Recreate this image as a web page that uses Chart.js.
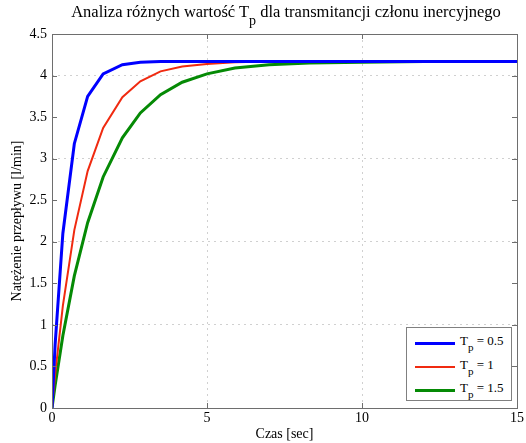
<!DOCTYPE html>
<html lang="pl">
<head>
  <meta charset="UTF-8" />
  <title>Analiza różnych wartość Tp</title>
  <script src="https://cdn.jsdelivr.net/npm/chart.js"></script>
  <style>
    html, body { margin: 0; padding: 0; background: #fff; }
    #wrap { position: relative; width: 526px; height: 443px; font-family: "Liberation Serif", "Times New Roman", serif; color: #000; }
    #title { position: absolute; left: 0; top: 2px; width: 572px; text-align: center; font-size: 16.5px; white-space: nowrap; }
    #title sub, #legend sub { font-size: 0.85em; vertical-align: -0.55em; line-height: 0; }
    #legend { position: absolute; left: 406px; top: 327px; width: 106px; height: 74px; border: 1px solid #808080; background: #fff; box-sizing: border-box; font-size: 13px; }
    .row { position: absolute; left: 0; height: 16px; }
    .row i { position: absolute; left: 8px; top: 7px; width: 40px; }
    .row span { position: absolute; left: 53px; top: -2px; white-space: nowrap; }
  </style>
</head>
<body>
<div id="wrap">
  <canvas id="chart" width="526" height="443"></canvas>
  <div id="title">Analiza różnych wartość T<sub>p</sub> dla transmitancji członu inercyjnego</div>
  <div id="legend"></div>
</div>

<script>
  // odpowiedź skokowa członu inercyjnego dla trzech stałych czasowych
  const times = [0, 0.1, 0.35, 0.72, 1.15, 1.65, 2.27, 2.85, 3.5, 4.2, 5.0, 5.9, 7.0, 8.3, 10, 12, 15];
  const tp05 = [0, 0.76, 2.10, 3.18, 3.75, 4.02, 4.13, 4.16, 4.17, 4.17, 4.17, 4.17, 4.17, 4.17, 4.17, 4.17, 4.17];
  const tp1  = [0, 0.40, 1.23, 2.14, 2.85, 3.37, 3.74, 3.93, 4.05, 4.11, 4.14, 4.16, 4.17, 4.17, 4.17, 4.17, 4.17];
  const tp15 = [0, 0.27, 0.87, 1.59, 2.23, 2.78, 3.25, 3.55, 3.77, 3.92, 4.02, 4.09, 4.13, 4.15, 4.16, 4.17, 4.17];

  const seriesLabels = ['0.5', '1', '1.5'];
  const seriesColors = ['#0000ff', '#f02a10', '#058a05'];
  const seriesWidths = [3, 2, 3];
  const xTicks = [0, 5, 10, 15];
  const yTicks = [0, 0.5, 1, 1.5, 2, 2.5, 3, 3.5, 4, 4.5];

  const serif = "'Liberation Serif', 'Times New Roman', serif";

  function pts(ys) {
    return times.map((t, i) => ({ x: t, y: ys[i] }));
  }

  // ramka i znaczniki do wewnątrz (styl MATLAB)
  const framePlugin = {
    id: 'frame',
    afterDraw(chart) {
      const { ctx, chartArea: a, scales } = chart;
      ctx.save();
      ctx.strokeStyle = '#6e6e6e';
      ctx.lineWidth = 1;
      ctx.strokeRect(a.left + 0.5, a.top + 0.5, a.right - a.left, a.bottom - a.top);
      ctx.beginPath();
      xTicks.forEach(v => {
        const px = Math.round(scales.x.getPixelForValue(v)) + 0.5;
        ctx.moveTo(px, a.bottom); ctx.lineTo(px, a.bottom - 5);
        ctx.moveTo(px, a.top); ctx.lineTo(px, a.top + 5);
      });
      yTicks.forEach(v => {
        const py = Math.round(scales.y.getPixelForValue(v)) + 0.5;
        ctx.moveTo(a.left, py); ctx.lineTo(a.left + 5, py);
        ctx.moveTo(a.right, py); ctx.lineTo(a.right - 5, py);
      });
      ctx.stroke();
      ctx.restore();
    }
  };

  new Chart(document.getElementById('chart'), {
    type: 'line',
    data: {
      datasets: [
        { label: 'Tp = ' + seriesLabels[0], data: pts(tp05) },
        { label: 'Tp = ' + seriesLabels[1], data: pts(tp1) },
        { label: 'Tp = ' + seriesLabels[2], data: pts(tp15) }
      ].map((d, i) => Object.assign(d, {
        borderColor: seriesColors[i],
        borderWidth: seriesWidths[i],
        pointRadius: 0,
        tension: 0,
        fill: false
      }))
    },
    options: {
      responsive: false,
      animation: false,
      layout: { padding: { top: 34, right: 7, left: 0, bottom: 0 } },
      plugins: { legend: { display: false }, title: { display: false }, tooltip: { enabled: false } },
      scales: {
        x: {
          type: 'linear', min: 0, max: 15,
          afterBuildTicks: s => { s.ticks = xTicks.map(v => ({ value: v })); },
          afterFit: s => { s.height = 35; },
          ticks: { color: '#000', font: { family: serif, size: 14 }, padding: 2, maxRotation: 0 },
          grid: { drawTicks: false, color: c => (c.tick && c.tick.value > 0 && c.tick.value < 15) ? '#d0d0d0' : 'rgba(0,0,0,0)' },
          border: { display: false, dash: [2, 4] },
          title: { display: true, text: 'Czas [sec]', color: '#000', font: { family: serif, size: 14 }, padding: { top: 0, bottom: 0 } }
        },
        y: {
          min: 0, max: 4.5,
          afterBuildTicks: s => { s.ticks = yTicks.map(v => ({ value: v })); },
          afterFit: s => { s.width = 52; },
          ticks: { color: '#000', font: { family: serif, size: 14 }, padding: 5, callback: v => String(v) },
          grid: { drawTicks: false, color: c => (c.tick && Number.isInteger(c.tick.value) && c.tick.value > 0) ? '#d0d0d0' : 'rgba(0,0,0,0)' },
          border: { display: false, dash: [2, 4] },
          title: { display: true, text: 'Natężenie przepływu [l/min]', color: '#000', font: { family: serif, size: 14 }, padding: { top: 9, bottom: 0 } }
        }
      }
    },
    plugins: [framePlugin]
  });

  // legenda z indeksem dolnym
  const legend = document.getElementById('legend');
  seriesLabels.forEach((lab, i) => {
    const row = document.createElement('div');
    row.className = 'row';
    row.style.top = (7 + i * 23.5) + 'px';
    row.style.width = '100%';
    row.innerHTML = '<i style="border-top:' + seriesWidths[i] + 'px solid ' + seriesColors[i] + '"></i>' +
      '<span>T<sub>p</sub> = ' + lab + '</span>';
    legend.appendChild(row);
  });
</script>
</body>
</html>
